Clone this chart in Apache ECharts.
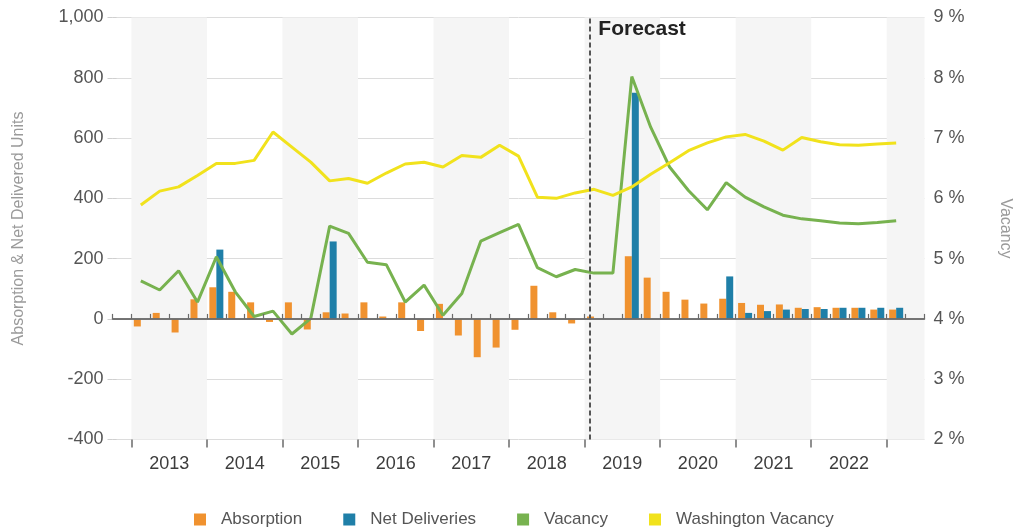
<!DOCTYPE html>
<html><head><meta charset="utf-8">
<script src="https://cdn.jsdelivr.net/npm/echarts@6/dist/echarts.min.js"></script>
<style>html,body{margin:0;padding:0;background:#fff}#c{width:1017px;height:529px}</style>
</head><body><div id="c"></div>
<script>
// ---- data ----
const yearLabels = ['2013','2014','2015','2016','2017','2018','2019','2020','2021','2022'];
// quarterly categories: one empty quarter before 2013Q1 and one after 2023Q1
const quarters = ['2012Q4'];
['2013','2014','2015','2016','2017','2018','2019','2020','2021','2022'].forEach(y => ['Q1','Q2','Q3','Q4'].forEach(q => quarters.push(y + q)));
quarters.push('2023Q1', '2023Q2');

// 2013Q1 .. 2023Q1
const absorption = [
  -25, 20, -45, 65,
  105, 90, 55, -10,
  55, -35, 22, 18,
  55, 8, 55, -40,
  50, -55, -127, -95,
  -36, 110, 22, -15,
  8, 0, 208, 137,
  90, 64, 51, 67,
  53, 47, 48, 37,
  39, 37, 37, 31,
  31
];
const netDeliveries = [
  0, 0, 0, 0,
  230, 0, 0, 0,
  0, 0, 257, 0,
  0, 0, 0, 0,
  0, 0, 0, 0,
  0, 0, 0, 0,
  0, 0, 750, 0,
  0, 0, 0, 141,
  20, 26, 31, 33,
  33, 37, 37, 37,
  37
];
const vacancy = [
  4.63, 4.48, 4.80, 4.28,
  5.03, 4.45, 4.04, 4.13,
  3.75, 4.01, 5.54, 5.42,
  4.94, 4.90, 4.28, 4.56,
  4.06, 4.42, 5.29, 5.43,
  5.57, 4.85, 4.70, 4.82,
  4.76, 4.76, 8.02, 7.18,
  6.52, 6.13, 5.81, 6.26,
  6.02, 5.86, 5.72, 5.66,
  5.63, 5.59, 5.58, 5.60,
  5.63
];
const washingtonVacancy = [
  5.89, 6.12, 6.19, 6.38,
  6.58, 6.58, 6.63, 7.10,
  6.85, 6.60, 6.29, 6.33,
  6.25, 6.42, 6.57, 6.60,
  6.52, 6.71, 6.68, 6.88,
  6.70, 6.02, 6.00, 6.09,
  6.15, 6.05, 6.19, 6.40,
  6.59, 6.79, 6.92, 7.02,
  7.06, 6.95, 6.80, 7.01,
  6.94, 6.89, 6.88, 6.90,
  6.92
];
const leftTicks = { min: -400, max: 1000, interval: 200 };
const rightTicks = { min: 2, max: 9, interval: 1 };
const FORECAST_AT = 25.25; // position (in quarters from axis start) of the forecast divider

// ---- helpers ----
const pad = arr => [null].concat(arr, [null]);
const first = quarters.indexOf('2013Q1');
const nQ = quarters.length;
const yearBounds = [];
for (let k = 0; k <= yearLabels.length; k++) yearBounds.push(first + 4 * k);
const yearCenters = yearLabels.map((_, k) => first + 4 * k + 2);

const FONT = 'Liberation Sans, Arial, sans-serif';
const C_ORANGE = '#f0922f', C_BLUE = '#1f7fa8', C_GREEN = '#77b24f', C_YELLOW = '#f1e21c';

const chart = echarts.init(document.getElementById('c'), null, { renderer: 'canvas' });
const option = {
  animation: false,
  textStyle: { fontFamily: FONT },
  grid: { left: 112.5, right: 92.5, top: 17.5, bottom: 89.5, containLabel: false, outerBoundsMode: 'none' },
  legend: {
    top: 506, left: 189, icon: 'rect', itemWidth: 12, itemHeight: 12, itemGap: 41,
    textStyle: { fontSize: 17, color: '#555', fontFamily: FONT, padding: [0, 0, 0, 10] },
    data: ['Absorption', 'Net Deliveries', 'Vacancy', 'Washington Vacancy']
  },
  xAxis: [
    { // quarters (data axis)
      type: 'category', data: quarters, position: 'bottom', boundaryGap: true,
      axisLine: { show: true, lineStyle: { color: '#6b6b6b', width: 1.5 } },
      axisTick: { show: true, inside: true, length: 5, interval: 0, lineStyle: { color: '#6b6b6b', width: 1.2 } },
      axisLabel: { show: false }, splitLine: { show: false }, z: 5
    },
    { // year ticks and labels
      type: 'value', min: 0, max: nQ, position: 'bottom',
      axisLine: { show: false },
      axisTick: { show: true, inside: false, length: 8, customValues: yearBounds.slice(), lineStyle: { color: '#6b6b6b', width: 1.5 } },
      axisLabel: {
        show: true, customValues: yearCenters, margin: 16, fontSize: 18, color: '#3d3d3d', fontFamily: FONT,
        formatter: v => yearLabels[(v - first - 2) / 4]
      },
      splitLine: { show: false }, z: 5
    },
    { // year shading bands
      type: 'value', min: 0, max: nQ, position: 'bottom', show: true,
      axisLine: { show: false }, axisLabel: { show: false },
      axisTick: { show: false, customValues: yearBounds.concat([nQ]) },
      splitLine: { show: false },
      splitArea: { show: true, areaStyle: { color: ['#f5f5f5', 'rgba(255,255,255,0)'] } }
    }
  ],
  yAxis: [
    {
      type: 'value', min: leftTicks.min, max: leftTicks.max, interval: leftTicks.interval,
      name: 'Absorption & Net Delivered Units', nameLocation: 'middle', nameRotate: 90, nameGap: 86,
      nameTextStyle: { color: '#9a9a9a', fontSize: 16, fontFamily: FONT },
      axisLine: { show: false },
      axisTick: { show: true, length: 5, lineStyle: { color: '#cfcfcf' } },
      axisLabel: { margin: 9, fontSize: 18, color: '#555', fontFamily: FONT,
        formatter: v => v.toLocaleString('en-US') },
      splitLine: { show: true, lineStyle: { color: '#dcdcdc', width: 1 } }
    },
    {
      type: 'value', min: rightTicks.min, max: rightTicks.max, interval: rightTicks.interval, position: 'right',
      name: 'Vacancy', nameLocation: 'middle', nameRotate: -90, nameGap: 73,
      nameTextStyle: { color: '#9a9a9a', fontSize: 16, fontFamily: FONT },
      axisLine: { show: false },
      axisTick: { show: true, length: 4, lineStyle: { color: '#cfcfcf' } },
      axisLabel: { margin: 9, fontSize: 18, color: '#555', fontFamily: FONT, formatter: '{value} %' },
      splitLine: { show: false }
    }
  ],
  series: [
    {
      name: 'Absorption', type: 'bar', xAxisIndex: 0, yAxisIndex: 0, data: pad(absorption),
      barWidth: 7, barGap: '0%', itemStyle: { color: C_ORANGE }, z: 3,
      markLine: {
        silent: true, symbol: 'none', label: { show: false },
        lineStyle: { color: '#707070', width: 1.5, type: 'solid' },
        data: [{ yAxis: 0 }]
      }
    },
    {
      name: 'Net Deliveries', type: 'bar', xAxisIndex: 0, yAxisIndex: 0, data: pad(netDeliveries),
      barWidth: 7, barGap: '0%', itemStyle: { color: C_BLUE }, z: 3
    },
    {
      name: 'Vacancy', type: 'line', xAxisIndex: 0, yAxisIndex: 1, data: pad(vacancy),
      symbol: 'none', lineStyle: { color: C_GREEN, width: 3 }, itemStyle: { color: C_GREEN }, z: 4
    },
    {
      name: 'Washington Vacancy', type: 'line', xAxisIndex: 0, yAxisIndex: 1, data: pad(washingtonVacancy),
      symbol: 'none', lineStyle: { color: C_YELLOW, width: 3 }, itemStyle: { color: C_YELLOW }, z: 4
    },
    {
      name: 'forecast', type: 'scatter', xAxisIndex: 1, yAxisIndex: 0, data: [],
      markLine: {
        silent: true, symbol: 'none', label: { show: false },
        lineStyle: { color: '#555', width: 2, type: [5, 3] },
        data: [{ xAxis: FORECAST_AT }]
      }
    }
  ]
};
chart.setOption(option);
const fx = chart.convertToPixel({ xAxisIndex: 1 }, FORECAST_AT);
chart.setOption({
  graphic: [{
    type: 'text', left: fx + 9, top: 19, z: 100,
    style: { text: 'Forecast', font: 'bold 21px ' + FONT, fill: '#222' }
  }]
});
</script>
</body></html>
